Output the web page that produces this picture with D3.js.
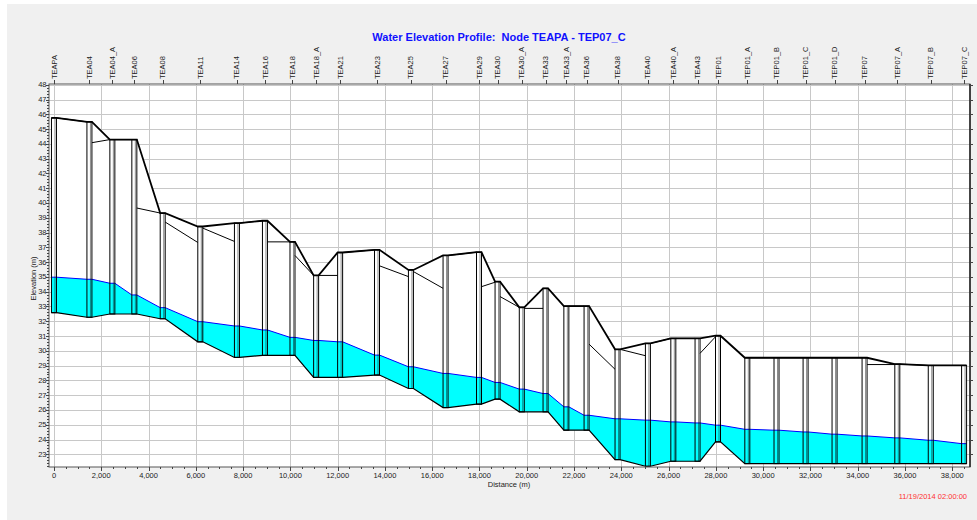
<!DOCTYPE html>
<html><head><meta charset="utf-8">
<script src="https://cdn.jsdelivr.net/npm/d3@7"></script>
<style>
html,body{margin:0;padding:0;background:#fff;}
svg{display:block;font-family:"Liberation Sans",Arial,sans-serif;}
</style></head><body>
<svg id="c" width="977" height="520"></svg>
<script>
// ---------------- data ----------------
const nodeNames = ["TEAPA","TEA04","TEA04_A","TEA06","TEA08","TEA11","TEA14","TEA16","TEA18","TEA18_A","TEA21","TEA23","TEA25","TEA27","TEA29","TEA30","TEA30_A","TEA33","TEA33_A","TEA36","TEA38","TEA40","TEA40_A","TEA43","TEP01","TEP01_A","TEP01_B","TEP01_C","TEP01_D","TEP07","TEP07_A","TEP07_B","TEP07_C"];
const nodeDistance = [0,1500,2470,3400,4600,6190,7740,8925,10090,11090,12105,13665,15100,16565,17980,18765,19790,20795,21675,22530,23840,25125,26200,27225,28090,29330,30565,31795,33020,34290,35675,37090,38500];
const nodeRim = [45.76,45.49,44.29,44.29,39.32,38.41,38.64,38.80,37.37,35.10,36.65,36.83,35.47,36.45,36.67,34.68,32.94,34.23,33.03,33.03,30.10,30.50,30.84,30.84,31.02,29.53,29.53,29.53,29.53,29.53,29.10,29.01,29.01];
const nodeInvert = [32.58,32.27,32.49,32.49,32.17,30.61,29.55,29.69,29.69,28.20,28.20,28.36,27.45,26.16,26.39,26.73,25.87,25.87,24.63,24.63,22.64,22.19,22.53,22.53,23.84,22.37,22.37,22.37,22.37,22.37,22.37,22.37,22.37];
const nodeWater = [34.98,34.84,34.57,33.78,32.92,31.97,31.68,31.41,30.91,30.70,30.61,29.71,28.92,28.47,28.20,27.86,27.41,27.11,26.21,25.64,25.40,25.31,25.19,25.12,24.97,24.69,24.63,24.51,24.36,24.24,24.11,23.95,23.72];
const linkCrownUp = [45.76,44.08,44.29,39.66,38.71,38.30,38.64,37.37,36.45,35.10,36.65,35.75,35.36,36.45,34.34,33.67,32.87,34.23,33.03,30.45,30.10,30.50,30.84,29.83,31.02,29.53,29.53,29.53,29.53,29.07,29.10,29.01];
const linkCrownDn = [45.49,44.29,44.29,39.32,37.33,37.40,38.80,37.37,35.10,35.10,36.83,35.02,34.23,36.67,34.64,32.94,32.87,33.03,33.03,28.75,29.67,30.84,30.84,30.95,29.53,29.53,29.53,29.53,29.53,29.07,29.01,29.01];
const xTicks = d3.range(0, 38001, 2000);
const xMinorTicks = d3.range(0, 38501, 500);
const yTicks = d3.range(23, 49, 1);
const yMinorTicks = d3.range(22.2, 48.01, 0.2);
const titleText = "Water Elevation Profile:  Node TEAPA - TEP07_C";
const xAxisTitle = "Distance (m)";
const yAxisTitle = "Elevation (m)";
const timeStamp = "11/19/2014 02:00:00";

// ---------------- layout ----------------
const L = 49, R = 970, T = 84, B = 467;
const NODE_W = 5;
const svg = d3.select("#c");

svg.append("rect").attr("x",7).attr("y",4).attr("width",970).attr("height",516).attr("fill","#f0f0f0");

const x = d3.scaleLinear().domain([-210, 38750]).range([L, R]);
const y = d3.scaleLinear().domain([22.14, 48.05]).range([B, T]);

svg.append("rect").attr("x",L).attr("y",T).attr("width",R-L).attr("height",B-T).attr("fill","#fff");

// grid
const grid = svg.append("g").attr("stroke","#c8c8c8").attr("stroke-width",1).attr("shape-rendering","crispEdges");
grid.selectAll(".gv").data(xTicks).join("line")
  .attr("x1",d=>Math.round(x(d))+0.5).attr("x2",d=>Math.round(x(d))+0.5).attr("y1",T).attr("y2",B);
grid.selectAll(".gh").data(yTicks).join("line")
  .attr("y1",d=>Math.round(y(d))+0.5).attr("y2",d=>Math.round(y(d))+0.5).attr("x1",L).attr("x2",R);

// expanded points (left & right edge of each node)
const pts = [];
nodeNames.forEach((n,i)=>{
  const cx = x(nodeDistance[i]);
  pts.push({px: cx - NODE_W/2, i});
  pts.push({px: cx + NODE_W/2, i});
});

// white profile body (ground to invert)
svg.append("path").datum(pts)
  .attr("d", d3.area().x(d=>d.px).y0(d=>y(nodeInvert[d.i])).y1(d=>y(nodeRim[d.i])))
  .attr("fill","#fff");

// water
svg.append("path").datum(pts)
  .attr("d", d3.area().x(d=>d.px).y0(d=>y(nodeInvert[d.i])).y1(d=>y(nodeWater[d.i])))
  .attr("fill","#00ffff");
svg.append("path").datum(pts)
  .attr("d", d3.line().x(d=>d.px).y(d=>y(nodeWater[d.i])))
  .attr("fill","none").attr("stroke","#0000ff").attr("stroke-width",1);

// invert line
svg.append("path").datum(pts)
  .attr("d", d3.line().x(d=>d.px).y(d=>y(nodeInvert[d.i])))
  .attr("fill","none").attr("stroke","#000").attr("stroke-width",1.2);

// conduit crown lines
const links = d3.range(nodeNames.length-1);
svg.append("g").selectAll("line").data(links).join("line")
  .attr("x1",i=>x(nodeDistance[i])+NODE_W/2).attr("y1",i=>y(linkCrownUp[i]))
  .attr("x2",i=>x(nodeDistance[i+1])-NODE_W/2).attr("y2",i=>y(linkCrownDn[i]))
  .attr("stroke","#000").attr("stroke-width",1);

// ground line
svg.append("path").datum(pts)
  .attr("d", d3.line().x(d=>d.px).y(d=>y(nodeRim[d.i])))
  .attr("fill","none").attr("stroke","#000").attr("stroke-width",1.8);

// nodes
const ng = svg.append("g");
nodeNames.forEach((n,i)=>{
  const cx = x(nodeDistance[i]);
  ng.append("rect").attr("x",cx-NODE_W/2).attr("y",y(nodeRim[i]))
    .attr("width",NODE_W).attr("height",y(nodeInvert[i])-y(nodeRim[i]))
    .attr("fill","none").attr("stroke","#000").attr("stroke-width",1);
  ng.append("line").attr("x1",cx+1).attr("x2",cx+1).attr("y1",y(nodeRim[i])).attr("y2",y(nodeInvert[i]))
    .attr("stroke","#000").attr("stroke-opacity",0.45).attr("stroke-width",1);
});

// frame
svg.append("rect").attr("x",L).attr("y",T).attr("width",R-L).attr("height",B-T)
  .attr("fill","none").attr("stroke","#555").attr("stroke-width",1);
svg.append("line").attr("x1",R).attr("x2",R).attr("y1",T).attr("y2",B).attr("stroke","#222").attr("stroke-width",1.5);

// axes ticks
const ax = svg.append("g").attr("stroke","#444").attr("shape-rendering","crispEdges");
ax.selectAll(".ym").data(yMinorTicks).join("line")
  .attr("x1",L-2).attr("x2",L).attr("y1",d=>Math.round(y(d))+0.5).attr("y2",d=>Math.round(y(d))+0.5);
ax.selectAll(".yM").data(yTicks).join("line")
  .attr("x1",L-3).attr("x2",L).attr("y1",d=>Math.round(y(d))+0.5).attr("y2",d=>Math.round(y(d))+0.5);
ax.selectAll(".yr").data(yTicks).join("line")
  .attr("x1",R).attr("x2",R+3).attr("y1",d=>Math.round(y(d))+0.5).attr("y2",d=>Math.round(y(d))+0.5);
ax.selectAll(".xm").data(xMinorTicks).join("line")
  .attr("y1",B).attr("y2",B+2).attr("x1",d=>Math.round(x(d))+0.5).attr("x2",d=>Math.round(x(d))+0.5);
ax.selectAll(".xM").data(xTicks).join("line")
  .attr("y1",B).attr("y2",B+4).attr("x1",d=>Math.round(x(d))+0.5).attr("x2",d=>Math.round(x(d))+0.5);
ax.selectAll(".tn").data(nodeDistance).join("line")
  .attr("y1",T).attr("y2",T-4).attr("x1",d=>Math.round(x(d))+0.5).attr("x2",d=>Math.round(x(d))+0.5);

svg.append("g").selectAll("text").data(yTicks).join("text")
  .attr("x",L-2.5).attr("y",d=>y(d)).attr("dy","0.33em").attr("text-anchor","end")
  .attr("font-size","7.5px").attr("fill","#222").text(d=>d);
const fmt = d3.format(",");
svg.append("g").selectAll("text").data(xTicks).join("text")
  .attr("x",d=>x(d)).attr("y",B+11).attr("text-anchor","middle")
  .attr("font-size","7.5px").attr("fill","#222").text(d=>fmt(d));

// node labels
svg.append("g").selectAll("text").data(nodeNames).join("text")
  .attr("transform",(d,i)=>`translate(${x(nodeDistance[i])},${T-5}) rotate(-90)`)
  .attr("dy","0.34em").attr("font-size","7.5px").attr("fill","#222").text(d=>d);

// titles
svg.append("text").attr("x",499).attr("y",41).attr("text-anchor","middle")
  .style("white-space","pre").attr("xml:space","preserve")
  .attr("font-size","11px").attr("font-weight","bold").attr("fill","#1010ff").text(titleText);
svg.append("text").attr("x",509).attr("y",487).attr("text-anchor","middle")
  .attr("font-size","7.5px").attr("fill","#222").text(xAxisTitle);
svg.append("text").attr("transform",`translate(36,${(T+B)/2+3}) rotate(-90)`).attr("text-anchor","middle")
  .attr("font-size","7.5px").attr("fill","#222").text(yAxisTitle);
svg.append("text").attr("x",967).attr("y",499).attr("text-anchor","end")
  .attr("font-size","7.5px").attr("fill","#ff3030").text(timeStamp);
</script>
</body></html>
